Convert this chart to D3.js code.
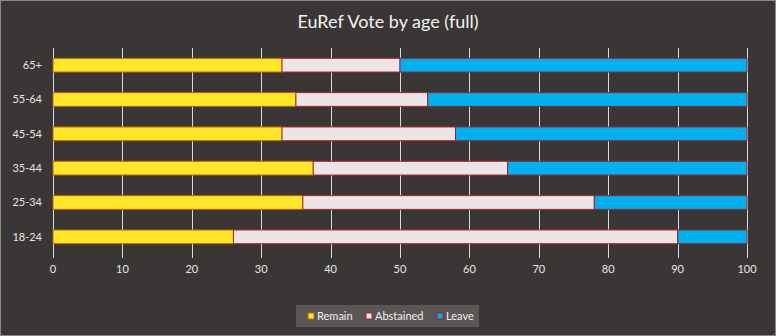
<!DOCTYPE html>
<html>
<head>
<meta charset="utf-8">
<script src="https://cdn.jsdelivr.net/npm/d3@7"></script>
<style>
  body { margin: 0; background: #3b3636; }
  svg { display: block; font-family: Lato, "Open Sans", sans-serif; }
</style>
</head>
<body>
<div id="chart"></div>
<script>
// data
const ageGroups = ["65+", "55-64", "45-54", "35-44", "25-34", "18-24"];
const remain    = [33, 35, 33, 37.5, 36, 26];
const abstained = [17, 19, 25, 28, 42, 64];
const leave     = [50, 46, 42, 34.5, 22, 10];
const seriesNames = ["Remain", "Abstained", "Leave"];
const xTicks = [0, 10, 20, 30, 40, 50, 60, 70, 80, 90, 100];

const colors = {Remain: "#ffe629", Abstained: "#ebe5e7", Leave: "#00b0f0"};
const strokes = {Remain: "#b8640a", Abstained: "#b0242a", Leave: "#8a2a30"};

const width = 776, height = 336;
const margin = {top: 48, right: 29, bottom: 82, left: 53};

const svg = d3.select("#chart").append("svg")
    .attr("width", width)
    .attr("height", height);

// background + border
svg.append("rect")
    .attr("x", 0.5).attr("y", 0.5)
    .attr("width", width - 1).attr("height", height - 1)
    .attr("fill", "#3b3636")
    .attr("stroke", "#8c8888");

// title
svg.append("text")
    .attr("x", width / 2)
    .attr("y", 28)
    .attr("text-anchor", "middle")
    .attr("fill", "#f2f2f2")
    .style("font-size", "18px")
    .text("EuRef Vote by age (full)");

const rows = ageGroups.map((g, i) => ({
    group: g, Remain: remain[i], Abstained: abstained[i], Leave: leave[i]
}));
const stacked = d3.stack().keys(seriesNames)(rows);

const x = d3.scaleLinear()
    .domain([0, 100])
    .range([margin.left, width - margin.right]);

const y = d3.scaleBand()
    .domain(ageGroups)
    .range([margin.top, height - margin.bottom])
    .paddingInner(0.6)
    .paddingOuter(0.3);

// gridlines
svg.append("g")
    .selectAll("line")
    .data(xTicks)
    .enter().append("line")
    .attr("x1", d => Math.round(x(d)) + 0.5)
    .attr("x2", d => Math.round(x(d)) + 0.5)
    .attr("y1", margin.top)
    .attr("y2", height - margin.bottom + 4)
    .attr("stroke", "#d9d9d9")
    .attr("stroke-width", 1);

// bars
svg.append("g")
    .selectAll("g")
    .data(stacked)
    .enter().append("g")
    .attr("fill", d => colors[d.key])
    .attr("stroke", d => strokes[d.key])
    .selectAll("rect")
    .data(d => d)
    .enter().append("rect")
    .attr("x", d => x(d[0]))
    .attr("y", d => y(d.data.group))
    .attr("width", d => x(d[1]) - x(d[0]))
    .attr("height", y.bandwidth())
    .attr("stroke-width", 1);

// x axis labels
svg.append("g")
    .selectAll("text")
    .data(xTicks)
    .enter().append("text")
    .attr("x", d => x(d))
    .attr("y", height - margin.bottom + 19)
    .attr("text-anchor", "middle")
    .attr("fill", "#e6e6e6")
    .style("font-size", "11px")
    .text(d => d);

// y labels
svg.append("g")
    .selectAll("text")
    .data(ageGroups)
    .enter().append("text")
    .attr("x", margin.left - 11)
    .attr("y", d => y(d) + y.bandwidth() / 2)
    .attr("dy", "0.35em")
    .attr("text-anchor", "end")
    .attr("fill", "#e6e6e6")
    .style("font-size", "11px")
    .text(d => d);

// legend
const legend = svg.append("g")
    .attr("transform", "translate(296, 305)");

legend.append("rect")
    .attr("width", 183)
    .attr("height", 22)
    .attr("fill", "#5a5656");

const legendX = [12, 70, 141];
const items = legend.selectAll(".item")
    .data(seriesNames)
    .enter().append("g")
    .attr("class", "item")
    .attr("transform", (d, i) => `translate(${legendX[i]}, 11)`);

items.append("rect")
    .attr("x", 0).attr("y", -3)
    .attr("width", 6).attr("height", 6)
    .attr("fill", d => colors[d])
    .attr("stroke", d => strokes[d]);

items.append("text")
    .attr("x", 9)
    .attr("dy", "0.35em")
    .attr("fill", "#f0f0f0")
    .style("font-size", "11px")
    .text(d => d);
</script>
</body>
</html>
